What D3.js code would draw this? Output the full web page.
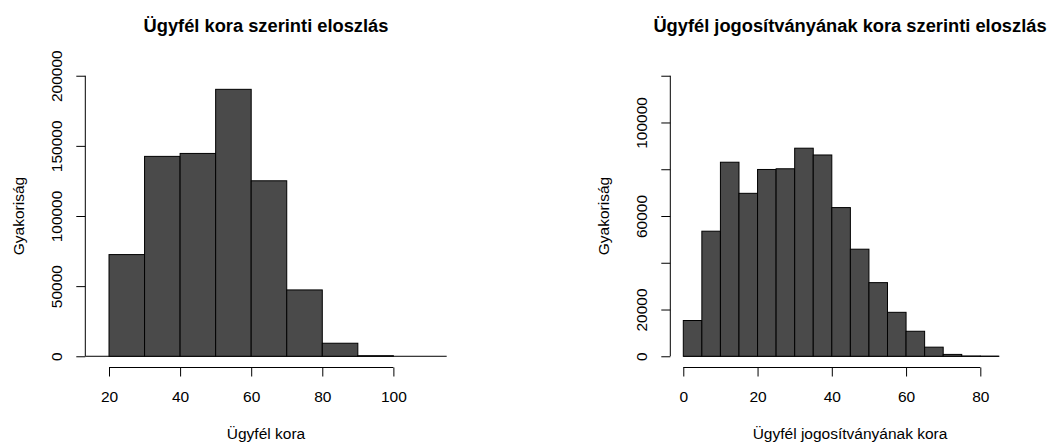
<!DOCTYPE html>
<html>
<head>
<meta charset="utf-8">
<script src="https://cdn.jsdelivr.net/npm/d3@7/dist/d3.min.js"></script>
<style>
  body { margin: 0; background: #fff; }
  svg text { font-family: "Liberation Sans", Arial, Helvetica, sans-serif; fill: #000; }
  .bar { fill: #4a4a4a; stroke: #000; stroke-width: 1; }
  .axis-line { stroke: #000; stroke-width: 1; fill: none; }
  .tick line { stroke: #000; }
</style>
</head>
<body>
<svg id="chart" width="1051" height="445"></svg>
<script>
// Two R-style histograms side by side

// Left: customer age
var ageBreaks = [20, 30, 40, 50, 60, 70, 80, 90, 100];
var ageCounts = [72500, 142500, 144600, 190300, 125100, 47300, 9300, 400];
var ageXTicks = [20, 40, 60, 80, 100];
var ageYTicks = [0, 50000, 100000, 150000, 200000];
var ageYLabels = ["0", "50000", "100000", "150000", "200000"];

// Right: age of the driving licence
var licBreaks = [0, 5, 10, 15, 20, 25, 30, 35, 40, 45, 50, 55, 60, 65, 70, 75, 80, 85];
var licCounts = [15300, 53500, 83000, 69700, 79900, 80200, 89000, 86100,
                 63600, 45800, 31500, 18800, 10700, 3900, 800, 100, 20];
var licXTicks = [0, 20, 40, 60, 80];
var licYTicks = [0, 20000, 40000, 60000, 80000, 100000, 120000];
var licYLabels = ["0", "20000", "", "60000", "", "100000", ""];   // R drops the ones that overlap

var svg = d3.select("#chart")
  , labelSize = "15.5px"
  , titleSize = "18.3px";

function drawHist (o) {
  var x = d3.scaleLinear().domain(o.xdom).range([o.left, o.right]);
  var y = d3.scaleLinear().domain(o.ydom).range([o.bottom, o.top]);
  var g = svg.append("g");

  var bins = o.counts.map(function (c, i) {
    return { x0: o.breaks[i], x1: o.breaks[i + 1], n: c };
  });

  // baseline at zero
  var b0 = o.fullBaseline ? o.xdom[0] : o.breaks[0]
    , b1 = o.fullBaseline ? o.xdom[1] : o.breaks[o.breaks.length - 1];
  g.append("line").attr("class", "axis-line")
   .attr("x1", x(b0)).attr("x2", x(b1))
   .attr("y1", y(0)).attr("y2", y(0));

  g.selectAll("rect.bar").data(bins).enter().append("rect")
   .attr("class", "bar")
   .attr("x", function (d) { return x(d.x0); })
   .attr("width", function (d) { return x(d.x1) - x(d.x0); })
   .attr("y", function (d) { return y(d.n); })
   .attr("height", function (d) { return y(0) - y(d.n); });

  // x axis, R puts it under the plot region
  var xa = g.append("g")
            .attr("transform", "translate(0," + o.bottom + ")")
            .call(d3.axisBottom(x).tickValues(o.xticks).tickSize(9).tickFormat(d3.format("d")));
  xa.select(".domain").remove();
  xa.selectAll("text").attr("y", 34.5).attr("dy", 0).style("font-size", labelSize);
  xa.append("line").attr("class", "axis-line")
    .attr("x1", x(o.xticks[0])).attr("x2", x(o.xticks[o.xticks.length - 1]));

  // y axis, labels parallel to the axis
  var ya = g.append("g")
            .attr("transform", "translate(" + o.left + ",0)")
            .call(d3.axisLeft(y).tickValues(o.yticks).tickSize(9)
                    .tickFormat(function (d, i) { return o.ylabels[i]; }));
  ya.select(".domain").remove();
  ya.selectAll("text")
    .attr("transform", "rotate(-90)")
    .attr("x", 0).attr("y", -23.5).attr("dy", 0)
    .attr("text-anchor", "middle")
    .style("font-size", labelSize);
  ya.append("line").attr("class", "axis-line")
    .attr("y1", y(o.yticks[0])).attr("y2", y(o.yticks[o.yticks.length - 1]));

  var cx = (o.left + o.right) / 2, cy = (o.top + o.bottom) / 2;

  g.append("text").attr("x", cx).attr("y", 32.3)
   .attr("text-anchor", "middle")
   .style("font-size", titleSize).style("font-weight", "bold")
   .text(o.title);

  g.append("text").attr("x", cx).attr("y", 439)
   .attr("text-anchor", "middle").style("font-size", labelSize)
   .text(o.xlab);

  g.append("text")
   .attr("transform", "translate(" + (o.left - 61.5) + "," + cy + ") rotate(-90)")
   .attr("text-anchor", "middle").style("font-size", labelSize)
   .text(o.ylab);
}

drawHist({
  breaks: ageBreaks, counts: ageCounts,
  xticks: ageXTicks, yticks: ageYTicks, ylabels: ageYLabels,
  xdom: [13.33, 115], ydom: [-8000, 208000],
  left: 85.3, right: 446.7, top: 64.5, bottom: 367.5,
  fullBaseline: true,
  title: "Ügyfél kora szerinti eloszlás",
  xlab: "Ügyfél kora",
  ylab: "Gyakoriság"
});

drawHist({
  breaks: licBreaks, counts: licCounts,
  xticks: licXTicks, yticks: licYTicks, ylabels: licYLabels,
  xdom: [-3.5, 93.3], ydom: [-4800, 124800],
  left: 670.3, right: 1029.7, top: 64.5, bottom: 367.5,
  fullBaseline: false,
  title: "Ügyfél jogosítványának kora szerinti eloszlás",
  xlab: "Ügyfél jogosítványának kora",
  ylab: "Gyakoriság"
});
</script>
</body>
</html>
